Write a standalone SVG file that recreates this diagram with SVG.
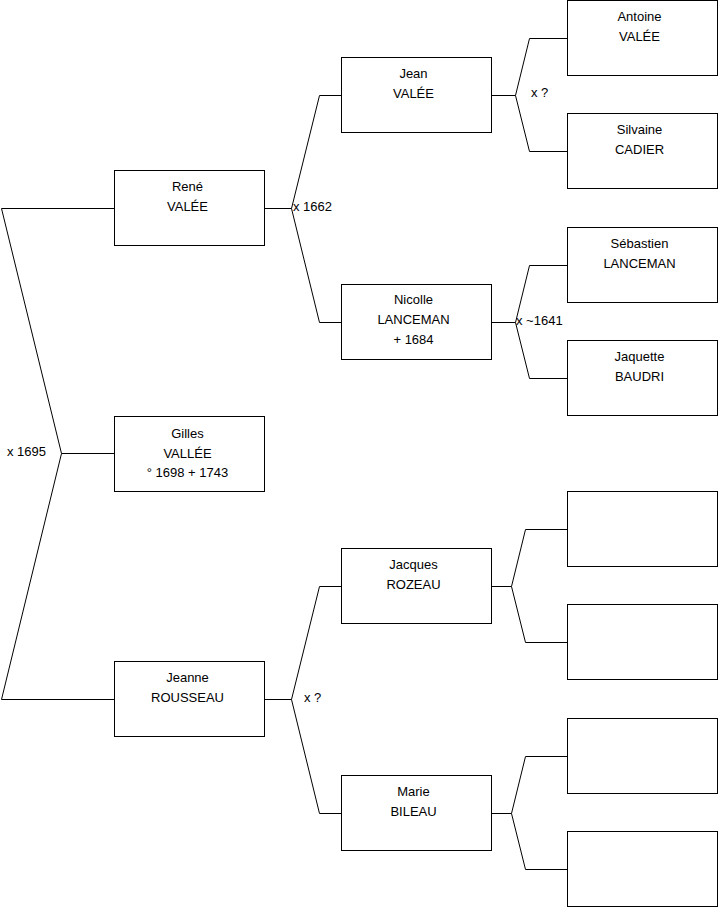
<svg xmlns="http://www.w3.org/2000/svg" width="719" height="908" viewBox="0 0 719 908">
<style>
.box{fill:#fff;stroke:#000;stroke-width:1}
.ln{fill:none;stroke:#000;stroke-width:1}
text{font-family:"Liberation Sans",Arial,sans-serif;font-size:13px;fill:#000}
.c{text-anchor:middle}
</style>
<rect width="719" height="908" fill="#fff"/>
<g id="connectors">
<polyline class="ln" points="114,208.5 1.5,208.5 61.5,453.5 1.5,699.5 114,699.5"/>
<line class="ln" x1="61.5" y1="453.5" x2="114" y2="453.5"/>
<polyline class="ln" points="341,95.5 319.5,95.5 291.5,208.5 319.5,322.5 341,322.5"/>
<line class="ln" x1="265" y1="208.5" x2="291.5" y2="208.5"/>
<polyline class="ln" points="341,586.5 319.5,586.5 291.5,699.5 319.5,813.5 341,813.5"/>
<line class="ln" x1="265" y1="699.5" x2="291.5" y2="699.5"/>
<polyline class="ln" points="567,38.5 529.5,38.5 515.5,95.5 529.5,151.5 567,151.5"/>
<line class="ln" x1="491" y1="95.5" x2="515.5" y2="95.5"/>
<polyline class="ln" points="567,265.5 529.5,265.5 515.5,322.5 529.5,378.5 567,378.5"/>
<line class="ln" x1="491" y1="322.5" x2="515.5" y2="322.5"/>
<polyline class="ln" points="567,529.5 525.5,529.5 511.5,586.5 525.5,642.5 567,642.5"/>
<line class="ln" x1="491" y1="586.5" x2="511.5" y2="586.5"/>
<polyline class="ln" points="567,756.5 525.5,756.5 511.5,813.5 525.5,869.5 567,869.5"/>
<line class="ln" x1="491" y1="813.5" x2="511.5" y2="813.5"/>
<text x="7" y="456">x 1695</text>
<text x="293" y="211">x 1662</text>
<text x="304" y="702">x ?</text>
<text x="531" y="97">x ?</text>
<text x="516" y="325">x ~1641</text>
</g>
<g id="gilles"><rect class="box" x="114.5" y="416.5" width="150" height="75"/>
<text class="c" x="187.5" y="437.5">Gilles</text><text class="c" x="187.5" y="457.5">VALLÉE</text><text class="c" x="187.5" y="477">° 1698 + 1743</text></g>
<g id="rene"><rect class="box" x="114.5" y="170.5" width="150" height="75"/>
<text class="c" x="187.5" y="191">René</text><text class="c" x="187.5" y="211">VALÉE</text></g>
<g id="jeanne"><rect class="box" x="114.5" y="661.5" width="150" height="75"/>
<text class="c" x="187.5" y="682">Jeanne</text><text class="c" x="187.5" y="702">ROUSSEAU</text></g>
<g id="jean"><rect class="box" x="341.5" y="57.5" width="150" height="75"/>
<text class="c" x="413.5" y="78">Jean</text><text class="c" x="413.5" y="98">VALÉE</text></g>
<g id="nicolle"><rect class="box" x="341.5" y="284.5" width="150" height="75"/>
<text class="c" x="413.5" y="304">Nicolle</text><text class="c" x="413.5" y="324">LANCEMAN</text><text class="c" x="413.5" y="344">+ 1684</text></g>
<g id="jacques"><rect class="box" x="341.5" y="548.5" width="150" height="75"/>
<text class="c" x="413.5" y="569">Jacques</text><text class="c" x="413.5" y="589">ROZEAU</text></g>
<g id="marie"><rect class="box" x="341.5" y="775.5" width="150" height="75"/>
<text class="c" x="413.5" y="796">Marie</text><text class="c" x="413.5" y="816">BILEAU</text></g>
<g id="antoine"><rect class="box" x="567.5" y="0.5" width="150" height="75"/>
<text class="c" x="639.5" y="21">Antoine</text><text class="c" x="639.5" y="41">VALÉE</text></g>
<g id="silvaine"><rect class="box" x="567.5" y="113.5" width="150" height="75"/>
<text class="c" x="639.5" y="134">Silvaine</text><text class="c" x="639.5" y="154">CADIER</text></g>
<g id="sebastien"><rect class="box" x="567.5" y="227.5" width="150" height="75"/>
<text class="c" x="639.5" y="248">Sébastien</text><text class="c" x="639.5" y="268">LANCEMAN</text></g>
<g id="jaquette"><rect class="box" x="567.5" y="340.5" width="150" height="75"/>
<text class="c" x="639.5" y="361">Jaquette</text><text class="c" x="639.5" y="381">BAUDRI</text></g>
<g id="empty1"><rect class="box" x="567.5" y="491.5" width="150" height="75"/></g>
<g id="empty2"><rect class="box" x="567.5" y="604.5" width="150" height="75"/></g>
<g id="empty3"><rect class="box" x="567.5" y="718.5" width="150" height="75"/></g>
<g id="empty4"><rect class="box" x="567.5" y="831.5" width="150" height="75"/></g>
</svg>
